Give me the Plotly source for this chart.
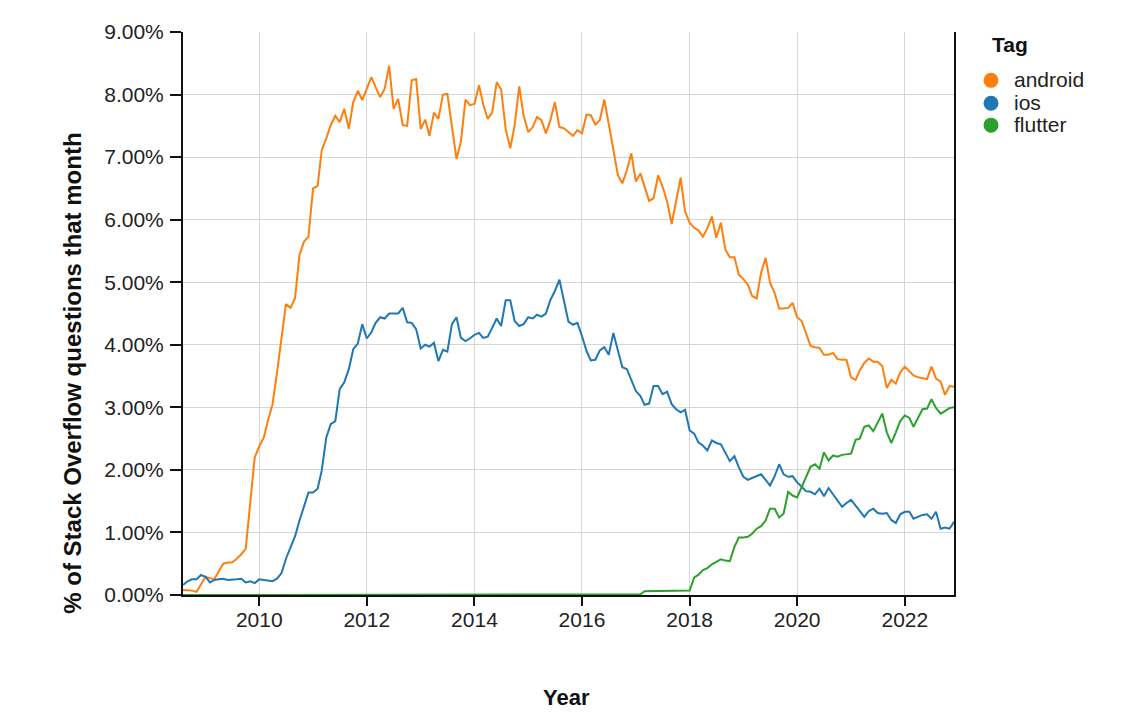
import pandas as pd
import plotly.graph_objects as go

START_MONTH = "2008-08-01"
N_MONTHS = 173

android = [
    0.08, 0.08, 0.07, 0.05, 0.18, 0.29, 0.27, 0.25, 0.38, 0.50,
    0.52, 0.52, 0.58, 0.65, 0.74, 1.45, 2.20, 2.38, 2.52, 2.79,
    3.05, 3.55, 4.10, 4.65, 4.59, 4.75, 5.44, 5.65, 5.73, 6.50,
    6.54, 7.11, 7.30, 7.51, 7.66, 7.56, 7.77, 7.45, 7.88, 8.06,
    7.91, 8.09, 8.28, 8.12, 7.96, 8.09, 8.46, 7.77, 7.93, 7.51,
    7.50, 8.23, 8.25, 7.45, 7.60, 7.34, 7.71, 7.61, 8.00, 8.01,
    7.50, 6.97, 7.25, 7.92, 7.83, 7.85, 8.15, 7.85, 7.61, 7.71,
    8.20, 8.08, 7.45, 7.14, 7.51, 8.13, 7.66, 7.40, 7.48, 7.64,
    7.59, 7.38, 7.59, 7.88, 7.48, 7.46, 7.40, 7.34, 7.43, 7.38,
    7.68, 7.67, 7.52, 7.59, 7.92, 7.51, 7.09, 6.71, 6.58, 6.79,
    7.06, 6.61, 6.74, 6.53, 6.30, 6.34, 6.71, 6.53, 6.29, 5.93,
    6.29, 6.67, 6.13, 5.95, 5.87, 5.83, 5.73, 5.86, 6.05, 5.71,
    5.95, 5.52, 5.40, 5.40, 5.12, 5.05, 4.96, 4.78, 4.74, 5.15,
    5.39, 4.99, 4.83, 4.58, 4.58, 4.59, 4.67, 4.44, 4.38, 4.17,
    3.98, 3.96, 3.95, 3.84, 3.84, 3.87, 3.77, 3.76, 3.76, 3.48,
    3.44, 3.59, 3.71, 3.78, 3.73, 3.73, 3.66, 3.31, 3.44, 3.38,
    3.56, 3.65, 3.57, 3.51, 3.48, 3.46, 3.45, 3.65, 3.46, 3.41,
    3.20, 3.34, 3.33,
]

ios = [
    0.16, 0.22, 0.25, 0.25, 0.32, 0.29, 0.20, 0.24, 0.25, 0.26,
    0.24, 0.24, 0.25, 0.26, 0.20, 0.22, 0.19, 0.25, 0.24, 0.23,
    0.22, 0.26, 0.35, 0.58, 0.77, 0.94, 1.19, 1.41, 1.64, 1.64,
    1.70, 1.99, 2.52, 2.73, 2.78, 3.29, 3.40, 3.61, 3.93, 4.02,
    4.33, 4.10, 4.20, 4.35, 4.44, 4.42, 4.50, 4.50, 4.50, 4.59,
    4.36, 4.35, 4.25, 3.94, 4.00, 3.97, 4.03, 3.74, 3.92, 3.89,
    4.33, 4.44, 4.11, 4.06, 4.10, 4.16, 4.19, 4.11, 4.13, 4.27,
    4.42, 4.30, 4.71, 4.71, 4.38, 4.30, 4.33, 4.44, 4.42, 4.48,
    4.45, 4.50, 4.72, 4.86, 5.04, 4.70, 4.37, 4.32, 4.35, 4.14,
    3.90, 3.75, 3.76, 3.91, 3.96, 3.84, 4.19, 3.91, 3.64, 3.61,
    3.45, 3.26, 3.18, 3.04, 3.06, 3.34, 3.34, 3.21, 3.25, 3.05,
    2.97, 2.92, 2.96, 2.63, 2.58, 2.44, 2.39, 2.31, 2.47, 2.43,
    2.41, 2.26, 2.14, 2.22, 2.04, 1.89, 1.84, 1.87, 1.90, 1.93,
    1.84, 1.75, 1.90, 2.09, 1.93, 1.89, 1.90, 1.80, 1.73, 1.66,
    1.65, 1.61, 1.70, 1.58, 1.71, 1.61, 1.50, 1.41, 1.47, 1.52,
    1.43, 1.35, 1.25, 1.34, 1.38, 1.31, 1.30, 1.31, 1.20, 1.15,
    1.29, 1.33, 1.33, 1.22, 1.25, 1.28, 1.29, 1.22, 1.33, 1.06,
    1.08, 1.06, 1.17,
]

flutter = [
    0.00, 0.00, 0.00, 0.00, 0.00, 0.00, 0.00, 0.00, 0.00, 0.00,
    0.00, 0.00, 0.00, 0.00, 0.00, 0.00, 0.00, 0.00, 0.00, 0.00,
    0.00, 0.00, 0.00, 0.00, 0.00, 0.00, 0.00, 0.00, 0.00, 0.00,
    0.00, 0.00, 0.00, 0.00, 0.00, 0.00, 0.00, 0.00, 0.00, 0.00,
    0.00, 0.00, 0.00, 0.00, 0.00, 0.00, 0.00, 0.00, 0.00, 0.00,
    0.00, 0.00, 0.00, 0.00, 0.00, 0.00, 0.00, 0.00, 0.00, 0.00,
    0.00, 0.00, 0.00, 0.00, 0.00, 0.00, 0.00, 0.00, 0.00, 0.00,
    0.00, 0.00, 0.00, 0.00, 0.00, 0.00, 0.00, 0.00, 0.00, 0.00,
    0.00, 0.00, 0.00, 0.00, 0.00, 0.00, 0.00, 0.00, 0.00, 0.00,
    0.00, 0.00, 0.00, 0.00, 0.00, 0.00, 0.01, 0.01, 0.01, 0.01,
    0.01, 0.01, 0.01, 0.06, 0.06, 0.06, 0.06, 0.06, 0.06, 0.06,
    0.06, 0.06, 0.06, 0.07, 0.28, 0.32, 0.40, 0.43, 0.49, 0.53,
    0.57, 0.55, 0.54, 0.77, 0.92, 0.92, 0.93, 0.98, 1.06, 1.10,
    1.19, 1.38, 1.38, 1.24, 1.30, 1.65, 1.59, 1.56, 1.73, 1.91,
    2.05, 2.09, 2.02, 2.28, 2.15, 2.23, 2.21, 2.24, 2.25, 2.26,
    2.48, 2.50, 2.69, 2.71, 2.62, 2.76, 2.90, 2.60, 2.43, 2.60,
    2.78, 2.87, 2.83, 2.69, 2.83, 2.97, 2.98, 3.13, 2.99, 2.90,
    2.94, 2.99, 3.00,
]

tags = ["android", "ios", "flutter"]
colors = ["#ff7f0e", "#1f77b4", "#2ca02c"]
y_ticks = [0, 1, 2, 3, 4, 5, 6, 7, 8, 9]
legend_title = "Tag"
x_title = "Year"
y_title = "% of Stack Overflow questions that month"

months = pd.date_range(START_MONTH, periods=N_MONTHS, freq="MS")

FONT = "Liberation Sans, Arial, sans-serif"

fig = go.Figure()
for name, vals, col in zip(tags, [android, ios, flutter], colors):
    fig.add_trace(go.Scatter(
        x=months, y=vals, mode="lines", name=name,
        line=dict(color=col, width=2), showlegend=False,
        hovertemplate="%{x|%b %Y}: %{y:.2f}%<extra>" + name + "</extra>",
    ))

# Plot area in page pixels: x 183..954, y 30..595 (page has an 8px body margin)
PX_L, PX_R, PX_T, PX_B = 183, 954, 30, 595
PW, PH = PX_R - PX_L, PX_B - PX_T


def px_x(p):
    return (p - PX_L) / PW


def px_y(p):
    return (PX_B - p) / PH


annotations = [
    dict(text=f"<b>{y_title}</b>", textangle=-90, x=px_x(73), y=px_y(373),
         xref="paper", yref="paper", xanchor="center", yanchor="middle",
         showarrow=False, font=dict(size=24, color="#111", family=FONT)),
    dict(text=f"<b>{x_title}</b>", x=px_x(566), y=px_y(698),
         xref="paper", yref="paper", xanchor="center", yanchor="middle",
         showarrow=False, font=dict(size=22, color="#111", family=FONT)),
    dict(text=f"<b>{legend_title}</b>", x=px_x(990), y=px_y(43),
         xref="paper", yref="paper", xanchor="left", yanchor="middle",
         showarrow=False, font=dict(size=21, color="#111", family=FONT)),
]
shapes = []
legend_rows = [78.5, 101.5, 123.5]
for name, col, ry in zip(tags, colors, legend_rows):
    shapes.append(dict(
        type="circle", xref="paper", yref="paper",
        xsizemode="pixel", ysizemode="pixel",
        xanchor=px_x(991), yanchor=px_y(ry),
        x0=-7.5, x1=7.5, y0=-7.5, y1=7.5,
        fillcolor=col, line=dict(width=0),
    ))
    annotations.append(dict(
        text=name, x=px_x(1012), y=px_y(ry - 1),
        xref="paper", yref="paper", xanchor="left", yanchor="middle",
        showarrow=False, font=dict(size=21, color="#222", family=FONT),
    ))

fig.update_layout(
    width=1125, height=718,
    margin=dict(l=PX_L - 8, r=1125 - PX_R + 8, t=PX_T - 8, b=718 - PX_B + 8),
    paper_bgcolor="white", plot_bgcolor="white",
    font=dict(family=FONT, size=21, color="#222"),
    showlegend=False,
    annotations=annotations,
    shapes=shapes,
)

fig.update_xaxes(
    range=[months[0], months[-1]],
    tickformat="%Y", dtick="M24", tick0="2010-01-01",
    showgrid=True, gridcolor="#d6d6d6", gridwidth=1.3,
    showline=True, linecolor="#111", linewidth=2,
    ticks="outside", ticklen=9, tickwidth=1.5, tickcolor="#111",
    tickfont=dict(size=21, color="#222"),
    ticklabelstandoff=-4,
    zeroline=False,
    layer="below traces",
)
fig.update_yaxes(
    range=[0, 9],
    tickvals=y_ticks,
    ticktext=[f"{v:.2f}%" for v in y_ticks],
    showgrid=True, gridcolor="#d6d6d6", gridwidth=1.3,
    showline=True, linecolor="#111", linewidth=2, mirror=True,
    ticks="outside", ticklen=11, tickwidth=1.5, tickcolor="#111",
    tickfont=dict(size=21, color="#222"),
    ticklabelstandoff=2,
    zeroline=False,
    layer="below traces",
)

fig.write_html("out.html")
